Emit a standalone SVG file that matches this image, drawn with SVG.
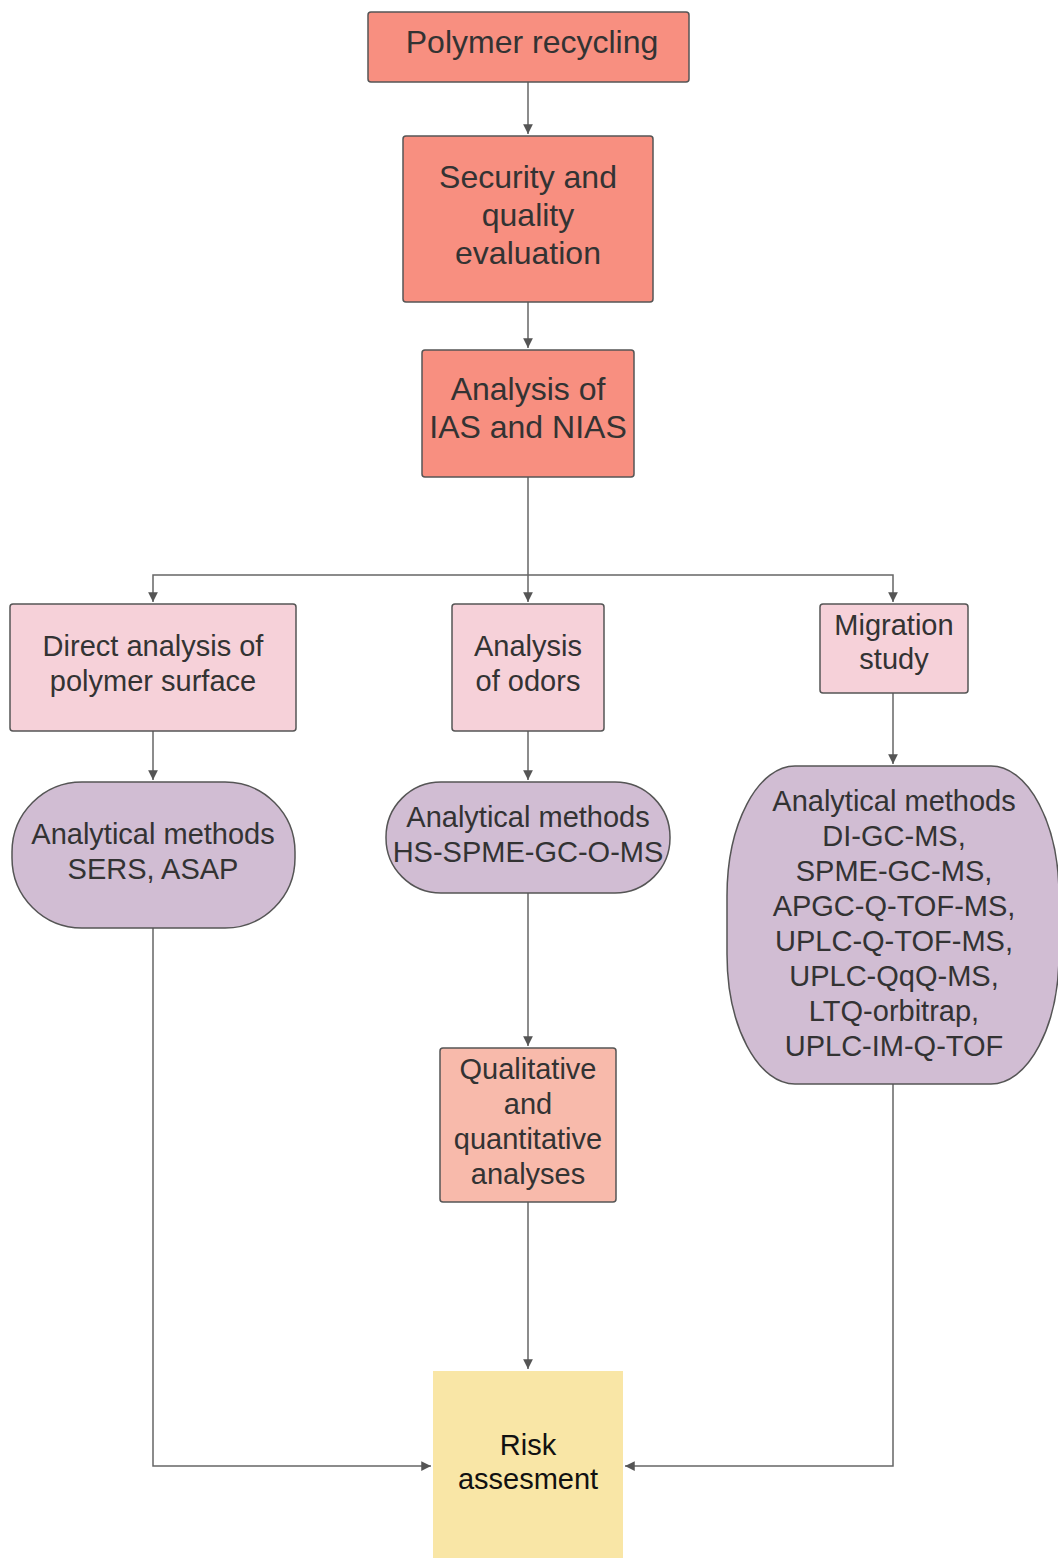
<svg xmlns="http://www.w3.org/2000/svg" width="1058" height="1558" viewBox="0 0 1058 1558">
<style>
.t{font-family:"Liberation Sans",Arial,sans-serif;fill:#333;text-anchor:middle}
.big{font-size:32px}
.sm{font-size:29px}
.red{fill:#f88f80;stroke:#555;stroke-width:1.5}
.pink{fill:#f6d1d9;stroke:#555;stroke-width:1.5}
.purp{fill:#d1bdd3;stroke:#555;stroke-width:1.5}
.salm{fill:#f8baab;stroke:#555;stroke-width:1.5}
.c{fill:none;stroke:#666;stroke-width:1.5}
</style>
<defs>
<marker id="ah" viewBox="0 0 10 10" refX="10" refY="5" markerWidth="6.5" markerHeight="6.5" markerUnits="strokeWidth" orient="auto">
<path d="M0,0 L10,5 L0,10 z" fill="#555"/>
</marker>
</defs>
<rect width="1058" height="1558" fill="#fff"/>
<g id="connectors">
<path class="c" d="M528,82 V134" marker-end="url(#ah)"/>
<path class="c" d="M528,302 V348" marker-end="url(#ah)"/>
<path class="c" d="M528,477 V602" marker-end="url(#ah)"/>
<path class="c" d="M528,575 H153 V602" marker-end="url(#ah)"/>
<path class="c" d="M528,575 H893 V602" marker-end="url(#ah)"/>
<path class="c" d="M153,731 V780" marker-end="url(#ah)"/>
<path class="c" d="M528,731 V780" marker-end="url(#ah)"/>
<path class="c" d="M893,693 V764" marker-end="url(#ah)"/>
<path class="c" d="M528,893 V1046" marker-end="url(#ah)"/>
<path class="c" d="M528,1202 V1369" marker-end="url(#ah)"/>
<path class="c" d="M153,928 V1466 H431" marker-end="url(#ah)"/>
<path class="c" d="M893,1084 V1466 H625" marker-end="url(#ah)"/>
</g>
<g id="n1">
<rect class="red" x="368" y="12" width="321" height="70" rx="3"/>
<text class="t big" x="532" y="53">Polymer recycling</text>
</g>
<g id="n2">
<rect class="red" x="403" y="136" width="250" height="166" rx="3"/>
<text class="t big" x="528" y="188">Security and</text>
<text class="t big" x="528" y="226">quality</text>
<text class="t big" x="528" y="264">evaluation</text>
</g>
<g id="n3">
<rect class="red" x="422" y="350" width="212" height="127" rx="3"/>
<text class="t big" x="528" y="400">Analysis of</text>
<text class="t big" x="528" y="438">IAS and NIAS</text>
</g>
<g id="n4">
<rect class="pink" x="10" y="604" width="286" height="127" rx="3"/>
<text class="t sm" x="153" y="656">Direct analysis of</text>
<text class="t sm" x="153" y="691">polymer surface</text>
</g>
<g id="n5">
<rect class="pink" x="452" y="604" width="152" height="127" rx="3"/>
<text class="t sm" x="528" y="656">Analysis</text>
<text class="t sm" x="528" y="691">of odors</text>
</g>
<g id="n6">
<rect class="pink" x="820" y="604" width="148" height="89" rx="3"/>
<text class="t sm" x="894" y="635">Migration</text>
<text class="t sm" x="894" y="669">study</text>
</g>
<g id="n7">
<rect class="purp" x="12" y="782" width="283" height="146" rx="70" ry="70"/>
<text class="t sm" x="153" y="844">Analytical methods</text>
<text class="t sm" x="153" y="879">SERS, ASAP</text>
</g>
<g id="n8">
<rect class="purp" x="386" y="782" width="284" height="111" rx="55" ry="55"/>
<text class="t sm" x="528" y="827">Analytical methods</text>
<text class="t sm" x="528" y="862">HS-SPME-GC-O-MS</text>
</g>
<g id="n9">
<rect class="purp" x="727" y="766" width="332" height="318" rx="68" ry="130"/>
<text class="t sm" x="894" y="811">Analytical methods</text>
<text class="t sm" x="894" y="846">DI-GC-MS,</text>
<text class="t sm" x="894" y="881">SPME-GC-MS,</text>
<text class="t sm" x="894" y="916">APGC-Q-TOF-MS,</text>
<text class="t sm" x="894" y="951">UPLC-Q-TOF-MS,</text>
<text class="t sm" x="894" y="986">UPLC-QqQ-MS,</text>
<text class="t sm" x="894" y="1021">LTQ-orbitrap,</text>
<text class="t sm" x="894" y="1056">UPLC-IM-Q-TOF</text>
</g>
<g id="n10">
<rect class="salm" x="440" y="1048" width="176" height="154" rx="3"/>
<text class="t sm" x="528" y="1079">Qualitative</text>
<text class="t sm" x="528" y="1114">and</text>
<text class="t sm" x="528" y="1149">quantitative</text>
<text class="t sm" x="528" y="1184">analyses</text>
</g>
<g id="n11">
<rect x="433" y="1371" width="190" height="187" fill="#f9e6a6"/>
<text class="t sm" x="528" y="1455" style="fill:#111">Risk</text>
<text class="t sm" x="528" y="1489" style="fill:#111">assesment</text>
</g>
</svg>
